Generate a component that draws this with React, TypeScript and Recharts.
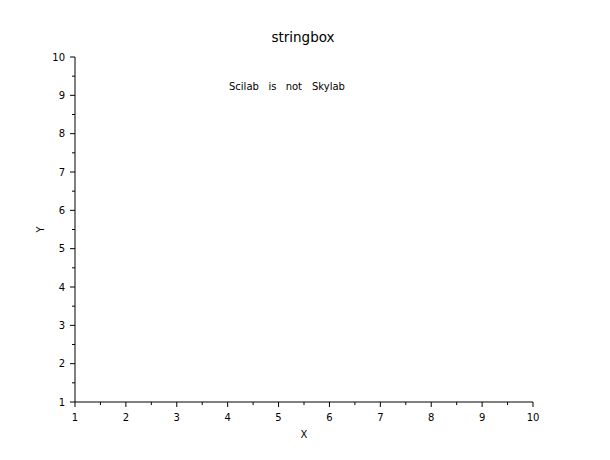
import React from 'react';
import { ScatterChart, Scatter, XAxis, YAxis, Label } from 'recharts';

const xTicks = [1, 1.5, 2, 2.5, 3, 3.5, 4, 4.5, 5, 5.5, 6, 6.5, 7, 7.5, 8, 8.5, 9, 9.5, 10];
const yTicks = [1, 1.5, 2, 2.5, 3, 3.5, 4, 4.5, 5, 5.5, 6, 6.5, 7, 7.5, 8, 8.5, 9, 9.5, 10];
const words = ['Scilab', 'is', 'not', 'Skylab'];
const wordX = [4.32, 4.88, 5.3, 5.98];
const wordY = [9.24, 9.24, 9.24, 9.24];

const wordData = words.map((w, i) => ({ x: wordX[i], y: wordY[i], word: w }));

const FONT = '"DejaVu Sans", sans-serif';

const XTick = (props: any) => {
  const { x, y, payload } = props;
  const major = Number.isInteger(payload.value);
  return (
    <g>
      <line x1={x} y1={y} x2={x} y2={y + (major ? 5 : 3)} stroke="#000" />
      {major && (
        <text x={x} y={y + 19} textAnchor="middle" fontSize={10} fontFamily={FONT} fill="#000">
          {payload.value}
        </text>
      )}
    </g>
  );
};

const YTick = (props: any) => {
  const { x, y, payload } = props;
  const major = Number.isInteger(payload.value);
  return (
    <g>
      <line x1={x} y1={y} x2={x - (major ? 5 : 3)} y2={y} stroke="#000" />
      {major && (
        <text x={x - 10} y={y + 3.5} textAnchor="end" fontSize={10} fontFamily={FONT} fill="#000">
          {payload.value}
        </text>
      )}
    </g>
  );
};

const WordShape = (props: any) => {
  const { cx, cy, payload } = props;
  return (
    <text x={cx} y={cy + 3.5} textAnchor="middle" fontSize={10} fontFamily={FONT} fill="#000">
      {payload.word}
    </text>
  );
};

const XLabel = (props: any) => {
  const vb = props.viewBox;
  return (
    <text x={vb.x + vb.width / 2} y={438} textAnchor="middle" fontSize={10} fontFamily={FONT} fill="#000">
      X
    </text>
  );
};

const YLabel = (props: any) => {
  const vb = props.viewBox;
  const x = vb.x + vb.width - 31;
  const y = vb.y + vb.height / 2;
  return (
    <text
      x={x}
      y={y}
      transform={`rotate(-90 ${x} ${y})`}
      textAnchor="middle"
      fontSize={10}
      fontFamily={FONT}
      fill="#000"
    >
      Y
    </text>
  );
};

export default function App() {
  return (
    <div style={{ position: 'absolute', left: 0, top: 0, width: 610, height: 460, background: '#fff' }}>
      <div
        style={{
          position: 'absolute',
          left: 0,
          width: 606,
          top: 29,
          textAlign: 'center',
          fontFamily: FONT,
          fontSize: 13.5,
          color: '#000',
          lineHeight: '16px',
        }}
      >
        stringbox
      </div>
      <ScatterChart width={610} height={460} margin={{ top: 57, right: 77, bottom: 28, left: 45 }}>
        <XAxis
          type="number"
          dataKey="x"
          domain={[1, 10]}
          ticks={xTicks}
          interval={0}
          height={30}
          tickSize={0}
          tickMargin={0}
          tickLine={false}
          axisLine={{ stroke: '#000' }}
          tick={<XTick />}
        >
          <Label content={<XLabel />} />
        </XAxis>
        <YAxis
          type="number"
          dataKey="y"
          domain={[1, 10]}
          ticks={yTicks}
          interval={0}
          width={30}
          tickSize={0}
          tickMargin={0}
          tickLine={false}
          axisLine={{ stroke: '#000' }}
          tick={<YTick />}
        >
          <Label content={<YLabel />} />
        </YAxis>
        <Scatter data={wordData} shape={<WordShape />} isAnimationActive={false} />
      </ScatterChart>
    </div>
  );
}
